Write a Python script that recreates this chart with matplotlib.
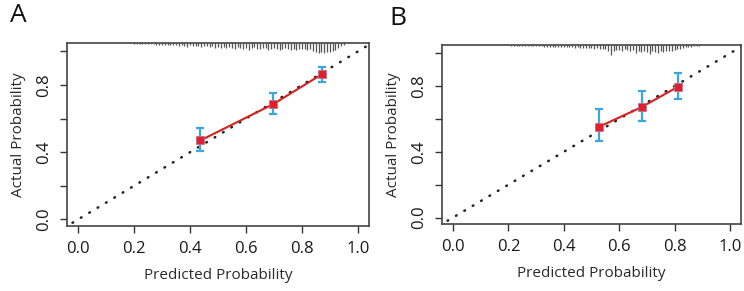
import matplotlib
matplotlib.use("Agg")
import matplotlib.pyplot as plt
import numpy as np

plt.rcParams['font.family'] = ['Open Sans', 'DejaVu Sans']

# Панель A: группы (предсказано, наблюдалось, нижняя и верхняя граница)
a_pred = [0.437, 0.698, 0.873]
a_obs = [0.47, 0.687, 0.866]
a_low = [0.41, 0.63, 0.82]
a_high = [0.543, 0.75, 0.91]

# Панель B
b_pred = [0.528, 0.682, 0.812]
b_obs = [0.553, 0.673, 0.796]
b_low = [0.467, 0.588, 0.723]
b_high = [0.659, 0.77, 0.88]

# Гистограмма предсказаний сверху (шаг 0.01)
rug_a_start = 0.20
rug_a_h = [0.004, 0.004, 0.005, 0.005, 0.006, 0.006, 0.007, 0.006, 0.008, 0.008,
           0.008, 0.010, 0.009, 0.011, 0.010, 0.012, 0.013, 0.011, 0.015, 0.020,
           0.012, 0.014, 0.016, 0.013, 0.018, 0.015, 0.017, 0.020, 0.016, 0.022,
           0.018, 0.024, 0.020, 0.026, 0.019, 0.023, 0.028, 0.021, 0.025, 0.030,
           0.022, 0.035, 0.024, 0.020, 0.027, 0.030, 0.023, 0.026, 0.032, 0.028,
           0.025, 0.030, 0.034, 0.027, 0.022, 0.029, 0.036, 0.030, 0.033, 0.028,
           0.031, 0.027, 0.033, 0.030, 0.038, 0.045, 0.048, 0.042, 0.050, 0.046,
           0.044, 0.040, 0.032, 0.025, 0.015, 0.008]
rug_b_start = 0.21
rug_b_h = [0.003, 0.003, 0.004, 0.004, 0.005, 0.005, 0.005, 0.006, 0.006,
           0.006, 0.007, 0.007, 0.008, 0.008, 0.009, 0.008, 0.010, 0.009, 0.010,
           0.010, 0.011, 0.012, 0.011, 0.013, 0.012, 0.014, 0.013, 0.015, 0.016,
           0.015, 0.018, 0.017, 0.020, 0.019, 0.022, 0.028, 0.050, 0.030, 0.024,
           0.026, 0.032, 0.022, 0.027, 0.030, 0.025, 0.040, 0.028, 0.034, 0.030,
           0.036, 0.045, 0.030, 0.033, 0.038, 0.029, 0.035, 0.032, 0.028, 0.030,
           0.025, 0.022, 0.018, 0.015, 0.012, 0.010, 0.008, 0.006, 0.005, 0.004]

xticks = [0.0, 0.2, 0.4, 0.6, 0.8, 1.0]
yticks = [0.0, 0.2, 0.4, 0.6, 0.8, 1.0]
ylabels = ['0.0', '', '0.4', '', '0.8', '']

fig = plt.figure(figsize=(7.44, 2.91), dpi=100)
axA = fig.add_axes([0.090, 0.223, 0.406, 0.629])
axB = fig.add_axes([0.594, 0.230, 0.402, 0.615])


def draw(ax, pred, obs, low, high, rug_start, rug_h, letter, lx):
    top = 1.05
    ax.set_xlim(-0.04, 1.04)
    ax.set_ylim(-0.04, top)
    # гистограмма сверху
    rx = rug_start + 0.01 * np.arange(len(rug_h))
    ax.vlines(rx, top - 1.2 * np.array(rug_h), top, color='#555555', lw=0.9)
    # диагональ
    ax.plot([-0.05, 1.1], [-0.05, 1.1], color='#222222', lw=1.8,
            linestyle=(0, (0.3, 3.6)), dash_capstyle='round')
    # линия калибровки
    ax.plot(pred, obs, color='#d62020', lw=1.5, zorder=3)
    yerr = [np.array(obs) - np.array(low), np.array(high) - np.array(obs)]
    ax.errorbar(pred, obs, yerr=yerr, fmt='none', ecolor='#3aa6dd',
                elinewidth=1.6, capsize=2.8, capthick=1.6, zorder=4)
    ax.plot(pred, obs, 's', color='#e0202a', ms=6, mec='#c07090', mew=0.6,
            zorder=5)
    ax.set_xticks(xticks)
    ax.set_xticklabels([f'{t:.1f}' for t in xticks])
    ax.set_yticks(yticks)
    ax.set_yticklabels(ylabels, rotation=90, va='center')
    ax.tick_params(length=5, width=1, color='#333333', labelsize=12,
                   labelcolor='#1a1a1a', pad=6)
    for s in ax.spines.values():
        s.set_color('#444444')
        s.set_linewidth(1.2)
    ax.set_xlabel('Predicted Probability', fontsize=11, color='#2a2a2a',
                  labelpad=8)
    ax.set_ylabel('Actual Probability', fontsize=11, color='#2a2a2a',
                  labelpad=7)
    ax.text(lx, 1.15, letter, transform=ax.transAxes, fontsize=19,
            color='#111111', va='center', ha='left')


draw(axA, a_pred, a_obs, a_low, a_high, rug_a_start, rug_a_h, 'A', -0.19)
draw(axB, b_pred, b_obs, b_low, b_high, rug_b_start, rug_b_h, 'B', -0.175)

fig.savefig('out.png', dpi=100)
